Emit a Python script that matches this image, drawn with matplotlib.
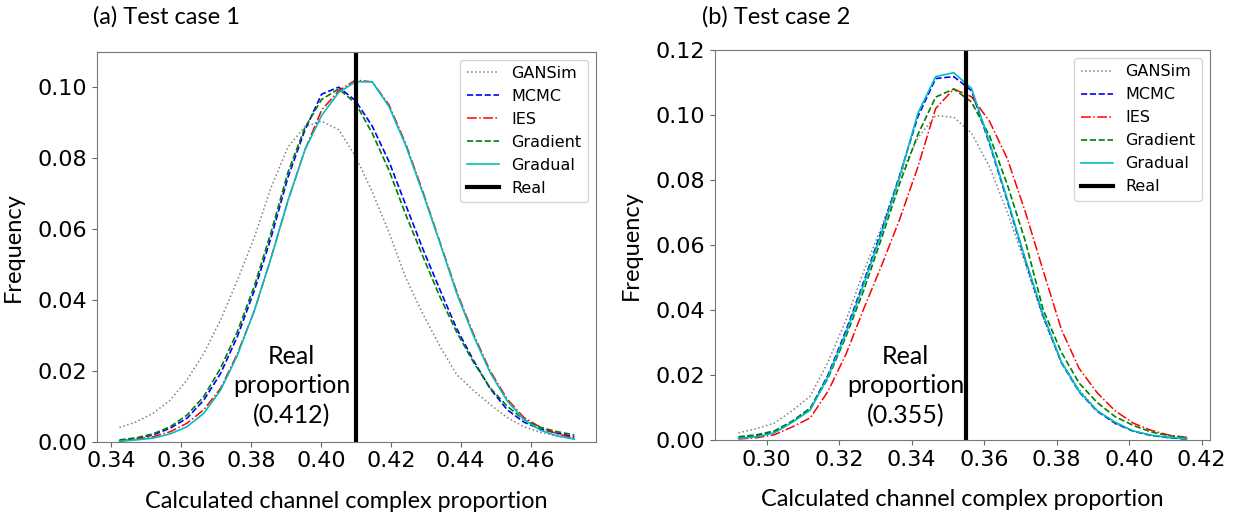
import matplotlib
matplotlib.use("Agg")
import matplotlib.pyplot as plt

# ---- test case 1 ----
x1 = [0.3424, 0.3472, 0.3520, 0.3569, 0.3617, 0.3665, 0.3713, 0.3761, 0.3810, 0.3858,
      0.3906, 0.3954, 0.4002, 0.4051, 0.4099, 0.4147, 0.4195, 0.4243, 0.4292, 0.4340,
      0.4388, 0.4436, 0.4484, 0.4533, 0.4581, 0.4629, 0.4677, 0.4725]
gansim1 = [.0040, .0056, .0080, .0117, .0174, .0249, .0343, .0455, .0577, .0718,
           .0831, .0889, .0904, .0880, .0805, .0705, .0590, .0462, .0360, .0270,
           .0190, .0145, .0105, .0068, .0042, .0026, .0016, .0010]
mcmc1 = [.0003, .0009, .0019, .0038, .0066, .0117, .0192, .0296, .0427, .0577,
         .0746, .0878, .0980, .1000, .0962, .0890, .0790, .0667, .0543, .0430,
         .0320, .0230, .0150, .0090, .0055, .0035, .0024, .0014]
ies1 = [.0002, .0007, .0014, .0028, .0052, .0090, .0150, .0248, .0370, .0520,
        .0680, .0822, .0935, .0990, .1020, .1015, .0950, .0840, .0705, .0565,
        .0425, .0305, .0200, .0120, .0068, .0040, .0022, .0010]
grad1 = [.0005, .0011, .0022, .0042, .0075, .0127, .0207, .0310, .0440, .0592,
         .0760, .0885, .0965, .0995, .0955, .0870, .0765, .0640, .0522, .0410,
         .0310, .0225, .0152, .0100, .0062, .0040, .0028, .0019]
gradual1 = [.0001, .0005, .0010, .0022, .0042, .0080, .0145, .0243, .0370, .0520,
            .0680, .0822, .0920, .0985, .1015, .1015, .0945, .0835, .0700, .0562,
            .0420, .0300, .0195, .0115, .0062, .0032, .0016, .0007]
real1 = 0.41
real1_label = "0.412"

# ---- test case 2 ----
x2 = [0.2922, 0.2972, 0.3021, 0.3070, 0.3120, 0.3169, 0.3219, 0.3268, 0.3318, 0.3367,
      0.3417, 0.3466, 0.3516, 0.3565, 0.3615, 0.3664, 0.3714, 0.3763, 0.3813, 0.3862,
      0.3912, 0.3961, 0.4011, 0.4060, 0.4110, 0.4159]
gansim2 = [.0022, .0035, .0052, .0090, .0135, .0240, .0370, .0520, .0660, .0810,
           .0930, .0998, .0993, .0944, .0840, .0700, .0540, .0375, .0240, .0155,
           .0090, .0050, .0028, .0014, .0007, .0003]
mcmc2 = [.0008, .0013, .0024, .0056, .0096, .0200, .0338, .0488, .0648, .0815,
         .0995, .1112, .1118, .1075, .0910, .0735, .0550, .0380, .0238, .0148,
         .0088, .0052, .0027, .0014, .0007, .0003]
ies2 = [.0003, .0007, .0016, .0040, .0068, .0150, .0265, .0405, .0540, .0680,
        .0840, .1020, .1080, .1056, .0980, .0865, .0700, .0520, .0340, .0220,
        .0145, .0090, .0052, .0030, .0015, .0008]
grad2 = [.0010, .0016, .0028, .0058, .0098, .0190, .0320, .0462, .0625, .0790,
         .0940, .1055, .1080, .1040, .0935, .0785, .0610, .0400, .0270, .0175,
         .0115, .0072, .0045, .0025, .0013, .0007]
gradual2 = [.0005, .0010, .0022, .0054, .0092, .0195, .0330, .0480, .0640, .0810,
            .1005, .1118, .1130, .1082, .0915, .0740, .0555, .0385, .0240, .0150,
            .0090, .0055, .0028, .0015, .0008, .0004]
real2 = 0.355
real2_label = "0.355"

text_font = ["Lato", "DejaVu Sans"]

fig = plt.figure(figsize=(12.34, 5.14), dpi=100)
ax1 = fig.add_axes([0.0784, 0.1407, 0.4046, 0.7587])
ax2 = fig.add_axes([0.5794, 0.1440, 0.4011, 0.7588])


def draw(ax, x, gansim, mcmc, ies, grad, gradual, real, real_label, xlim, ylim, xticks, yticks, tx, ty):
    ax.plot(x, gansim, color="grey", ls=":", lw=1.1, label="GANSim")
    ax.plot(x, mcmc, color="b", ls="--", lw=1.2, label="MCMC")
    ax.plot(x, ies, color="r", ls="-.", lw=1.1, label="IES")
    ax.plot(x, grad, color="g", ls="--", lw=1.2, label="Gradient")
    ax.plot(x, gradual, color="c", ls="-", lw=1.2, label="Gradual")
    ax.axvline(real, color="k", lw=3, label="Real")
    ax.set_xlim(*xlim)
    ax.set_ylim(*ylim)
    ax.set_xticks(xticks)
    ax.set_yticks(yticks)
    ax.tick_params(labelsize=16, color="#666666")
    for s in ax.spines.values():
        s.set_color("#777777")
    ax.set_xlabel("Calculated channel complex proportion", fontsize=16.8,
                  family=text_font, labelpad=14)
    ax.set_ylabel("Frequency", fontsize=17, family=text_font, labelpad=10)
    ax.text(tx, ty, "Real\nproportion\n(" + real_label + ")", ha="center", va="center",
            fontsize=18, family=text_font, linespacing=1.35)
    ax.legend(loc="upper right", fontsize=11.5)


draw(ax1, x1, gansim1, mcmc1, ies1, grad1, gradual1, real1, real1_label,
     (0.3359, 0.4787), (0, 0.11), [0.34, 0.36, 0.38, 0.40, 0.42, 0.44, 0.46],
     [0.00, 0.02, 0.04, 0.06, 0.08, 0.10], 0.3917, 0.0157)
draw(ax2, x2, gansim2, mcmc2, ies2, grad2, gradual2, real2, real2_label,
     (0.2857, 0.4223), (0, 0.12), [0.30, 0.32, 0.34, 0.36, 0.38, 0.40, 0.42],
     [0.00, 0.02, 0.04, 0.06, 0.08, 0.10, 0.12], 0.3383, 0.0166)

fig.text(93 / 1234, 1 - 17 / 514, "(a) Test case 1", fontsize=17, family=text_font, va="center")
fig.text(702 / 1234, 1 - 17 / 514, "(b) Test case 2", fontsize=17, family=text_font, va="center")

fig.savefig("out.png", dpi=100)
